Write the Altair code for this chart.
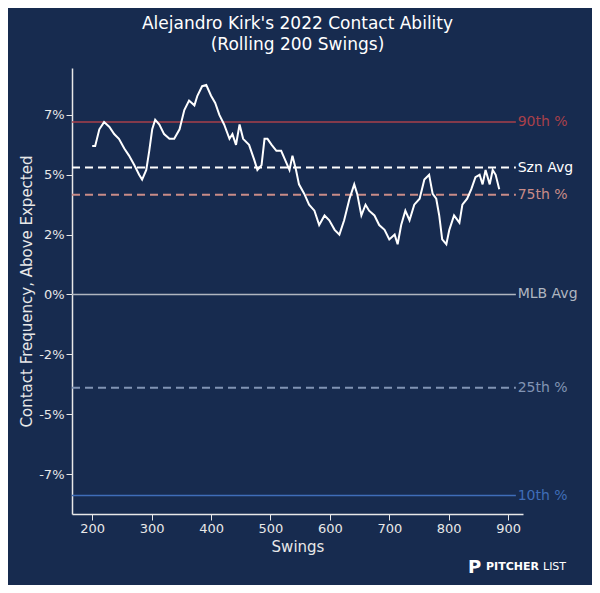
import altair as alt
import pandas as pd

swings = [200,205,212,220,229,237,245,254,262,271,279,284,291,296,301,306,313,321,330,338,347,355,363,372,377,385,392,400,407,414,422,431,436,442,448,454,464,473,478,485,490,495,502,510,518,525,532,537,543,548,557,565,574,582,591,599,608,616,624,633,641,646,653,660,666,675,683,692,700,709,714,720,727,734,742,751,759,767,773,779,784,789,796,801,809,818,823,831,838,845,852,857,862,869,874,879,885]
contact = [6.2,6.2,6.9,7.2,7.0,6.7,6.5,6.1,5.8,5.4,5.0,4.8,5.2,6.0,6.9,7.3,7.1,6.7,6.5,6.5,6.9,7.7,8.1,7.9,8.3,8.7,8.75,8.3,8.0,7.5,7.1,6.5,6.7,6.25,7.1,6.5,6.25,5.6,5.2,5.4,6.5,6.5,6.25,6.0,6.0,5.6,5.2,5.8,5.2,4.6,4.2,3.75,3.5,2.9,3.3,3.1,2.7,2.5,3.1,4.0,4.6,4.2,3.3,3.75,3.5,3.3,2.9,2.7,2.3,2.5,2.1,2.9,3.5,3.1,3.75,4.0,4.8,5.0,4.2,4.0,3.3,2.3,2.1,2.7,3.3,3.0,3.75,4.0,4.4,4.9,5.0,4.6,5.2,4.6,5.2,5.0,4.4]

ref_labels = ["90th %", "Szn Avg", "75th %", "MLB Avg", "25th %", "10th %"]
ref_values = [7.2, 5.3, 4.17, 0.0, -3.9, -8.4]
ref_colors = ["#a8404a", "#ffffff", "#c98c88", "#b0b6c0", "#8194b4", "#3f6db8"]
ref_dash = [0, 1, 1, 0, 1, 0]

BG = "#172b4f"
df = pd.DataFrame({"swings": swings, "contact": contact})
refs = pd.DataFrame({"label": ref_labels, "v": ref_values, "c": ref_colors, "d": ref_dash,
                     "x0": [166]*6, "x1": [913]*6, "xt": [916]*6})

xs = alt.Scale(domain=[166, 925], nice=False, zero=False)
ys = alt.Scale(domain=[-9.17, 9.46], nice=False, zero=False)

line = alt.Chart(df).mark_line(color="white", strokeWidth=2).encode(
    x=alt.X("swings:Q", scale=xs, title="Swings",
            axis=alt.Axis(values=[200,300,400,500,600,700,800,900], grid=False)),
    y=alt.Y("contact:Q", scale=ys, title="Contact Frequency, Above Expected",
            axis=alt.Axis(values=[-7.5,-5,-2.5,0,2.5,5,7.5], grid=False,
                          labelExpr="toString(datum.value > 0 ? floor(datum.value) : -floor(-datum.value)) + '%'")))

solid = alt.Chart(refs[refs.d == 0]).mark_rule(strokeWidth=1.5).encode(
    x="x0:Q", x2="x1:Q", y="v:Q", color=alt.Color("c:N", scale=None))
dashed = alt.Chart(refs[refs.d == 1]).mark_rule(strokeWidth=2, strokeDash=[8, 5]).encode(
    x="x0:Q", x2="x1:Q", y="v:Q", color=alt.Color("c:N", scale=None))
labels = alt.Chart(refs).mark_text(align="left", baseline="middle", fontSize=14, font="DejaVu Sans").encode(
    x="xt:Q", y="v:Q", text="label:N", color=alt.Color("c:N", scale=None))

logo0 = alt.Chart(df.head(1)).mark_text(align="left", fontSize=18, fontWeight="bold", color="white",
                                        font="DejaVu Sans").encode(
    x=alt.value(396), y=alt.value(500), text=alt.value("P"))
logo1 = alt.Chart(df.head(1)).mark_text(align="left", fontSize=11, fontWeight="bold", color="white",
                                        font="DejaVu Sans").encode(
    x=alt.value(414), y=alt.value(499), text=alt.value("PITCHER"))
logo2 = alt.Chart(df.head(1)).mark_text(align="left", fontSize=11, color="white", font="DejaVu Sans").encode(
    x=alt.value(471), y=alt.value(499), text=alt.value("LIST"))

chart = alt.layer(solid, dashed, line, labels, logo0, logo1, logo2).properties(
    width=451, height=446, background=BG,
    autosize=alt.AutoSizeParams(type="none"),
    padding={"left": 64, "top": 60, "right": 69, "bottom": 71},
    title=alt.TitleParams(["Alejandro Kirk's 2022 Contact Ability", "(Rolling 200 Swings)"],
                          color="white", fontSize=17, fontWeight="normal", font="DejaVu Sans",
                          anchor="middle", offset=14, lineHeight=21)
).configure_view(stroke=None).configure_axis(
    domainColor="#e8e8e8", tickColor="#e8e8e8", labelColor="#e8e8e8", titleColor="#e8e8e8",
    labelFont="DejaVu Sans", titleFont="DejaVu Sans", labelFontSize=13, titleFontSize=15,
    titleFontWeight="normal", domainWidth=1.5, tickSize=6
)

chart.save("out.html", embed_options={"renderer": "svg", "actions": False})
